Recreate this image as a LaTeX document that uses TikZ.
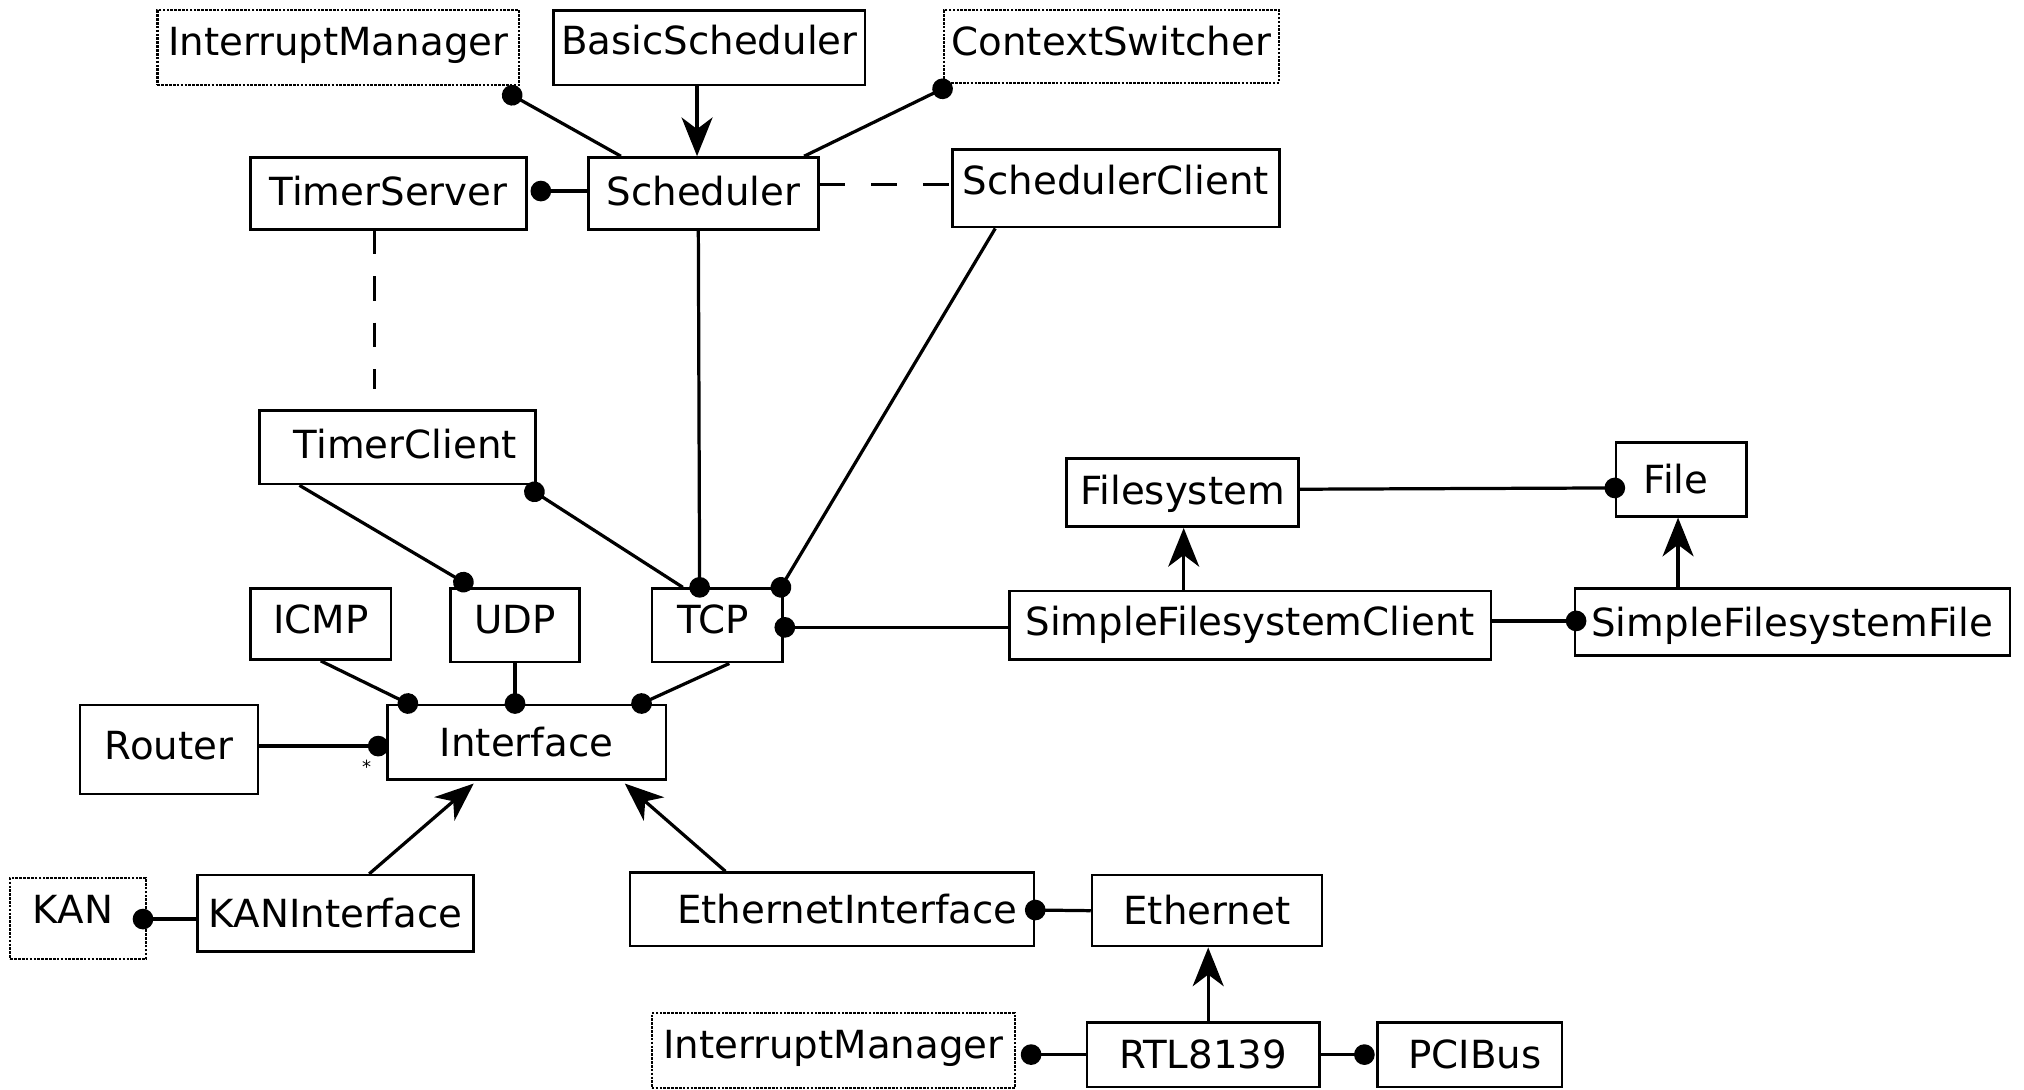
\documentclass[tikz,border=0pt]{standalone}
\usepackage{fontspec}
\setmainfont{DejaVu Sans}
\usetikzlibrary{arrows.meta,calc}
\begin{document}
\begin{tikzpicture}[x=1pt,y=-1pt,
  box/.style={draw, line width=2pt, rectangle, inner sep=0pt, text height=22pt, text depth=0pt, font=\fontsize{30}{36}\selectfont},
  dbox/.style={box, densely dotted, line width=1.6pt},
  lift/.style={text depth=#1},
  conn/.style={line width=2.5pt},
  dotS/.style={conn, {Circle[length=16pt,width=16pt]}-, shorten <=-8pt},
  dotE/.style={conn, -{Circle[length=16pt,width=16pt]}, shorten >=-8pt},
  inh/.style={conn, -{Stealth[length=30pt,width=24pt,inset=9pt]}},
  dsh/.style={line width=2.5pt, dash pattern=on 20pt off 20pt}
]
\useasboundingbox (0,0) rectangle (1568,844);
\fill[white] (0,0) rectangle (1568,844);

% boxes
\node[dbox, lift=10pt, minimum width=280pt, minimum height=58pt] (im1) at (262,37) {InterruptManager};
\node[box, lift=12pt, minimum width=241pt, minimum height=58pt] (bs) at (549.5,37) {BasicScheduler};
\node[dbox, lift=8pt, minimum width=260pt, minimum height=56pt] (cs) at (861,36) {ContextSwitcher};
\node[box, lift=4pt, minimum width=214pt, minimum height=56pt] (ts) at (301,150) {TimerServer};
\node[box, lift=4pt, minimum width=178pt, minimum height=56pt] (sch) at (545,150) {Scheduler};
\node[box, lift=12pt, minimum width=253pt, minimum height=60pt] (sc) at (864.5,146) {SchedulerClient};
\node[box, lift=4pt, minimum width=214pt, minimum height=57pt] (tc) at (308,346.5) {\hspace*{12pt}TimerClient};
\node[box, lift=4pt, minimum width=180pt, minimum height=53pt] (fs) at (916,381.5) {Filesystem};
\node[box, minimum width=101pt, minimum height=57pt] (file) at (1302.5,371.5) {File\hspace*{8pt}};
\node[box, lift=8pt, minimum width=109pt, minimum height=55pt] (icmp) at (248.5,483.5) {ICMP};
\node[box, lift=10pt, minimum width=100pt, minimum height=57pt] (udp) at (399,484.5) {UDP};
\node[box, lift=10pt, minimum width=101pt, minimum height=57pt] (tcp) at (555.5,484.5) {TCP\hspace*{6pt}};
\node[box, lift=6pt, minimum width=373pt, minimum height=53pt] (sfc) at (968.5,484.5) {SimpleFilesystemClient};
\node[box, minimum width=337pt, minimum height=52pt] (sff) at (1388.5,482) {SimpleFilesystemFile};
\node[box, lift=6pt, minimum width=138pt, minimum height=69pt] (router) at (131,580.5) {Router};
\node[box, minimum width=216pt, minimum height=58pt] (iface) at (408,575) {Interface};
\node[dbox, lift=14pt, minimum width=105pt, minimum height=63pt] (kan) at (60.5,711.5) {KAN\hspace*{8pt}};
\node[box, minimum width=214pt, minimum height=59pt] (kani) at (260,707.5) {KANInterface};
\node[box, minimum width=313pt, minimum height=57pt] (ethi) at (644.5,704.5) {\hspace*{24pt}EthernetInterface};
\node[box, minimum width=178pt, minimum height=55pt] (eth) at (935,705.5) {Ethernet};
\node[dbox, lift=10pt, minimum width=281pt, minimum height=58pt] (im2) at (645.5,814) {InterruptManager};
\node[box, minimum width=180pt, minimum height=50pt] (rtl) at (932,817) {RTL8139};
\node[box, minimum width=143pt, minimum height=50pt] (pci) at (1138.5,817) {\hspace*{8pt}PCIBus};

% connectors
\draw[dotS] ($(im1.south east)+(-6,7)$) -- ($(sch.north west)+(26,0)$);
\draw[inh] ($(bs.south)+(-9.5,0)$) -- ($(sch.north)+(-5,0)$);
\draw[dotS] ($(cs.south west)+(0,4)$) -- ($(sch.north east)+(-12,0)$);
\draw[dotS] ($(ts.east)+(10,-2)$) -- ($(sch.west)+(0,-2)$);
\draw[dsh] ($(sch.east)+(0,-7)$) -- ($(sc.west)+(0,-3)$);
\draw[line width=2.5pt, dash pattern=on 19pt off 17pt] ($(ts.south)+(-11,-1)$) -- ($(tc.north)+(-18,-16)$);
\draw[dotE] ($(sch.south)+(-4,0)$) -- ($(tcp.north west)+(38,0)$);
\draw[dotE] ($(sc.south west)+(34,0)$) -- ($(tcp.north east)+(-2,0)$);
\draw[dotE] ($(tc.south west)+(32,0)$) -- ($(udp.north west)+(11,-4)$);
\draw[dotS] ($(tc.south east)+(-2,5)$) -- ($(tcp.north west)+(25,0)$);
\draw[dotE] (icmp.south) -- ($(iface.north west)+(17,0)$);
\draw[dotE] (udp.south) -- (udp.south |- iface.north);
\draw[dotE] ($(tcp.south)+(9.5,0)$) -- ($(iface.north east)+(-20,0)$);
\draw[dotE] ($(router.east)+(0,-2.5)$) -- ($(iface.west)+(-6,3)$);
\node[font=\fontsize{14}{14}\selectfont, inner sep=0pt] (star) at (284,594) {*};
\draw[dotS] ($(tcp.east)+(1,1.5)$) -- ($(sfc.west)+(0,1.5)$);
\draw[inh] ($(kani.north west)+(134,0)$) -- ($(iface.south west)+(68,2)$);
\draw[inh] ($(ethi.north west)+(75,0)$) -- ($(iface.south east)+(-33,2)$);
\draw[dotS] ($(kan.east)+(-3,0.5)$) -- ($(kani.west)+(0,4.5)$);
\draw[dotS] ($(ethi.east)+(0,0.5)$) -- (eth.west);
\draw[inh] ($(rtl.north)+(4,0)$) -- ($(eth.south)+(1,0)$);
\draw[dotS] ($(im2.east)+(12,3)$) -- (rtl.west);
\draw[dotE] (rtl.east) -- ($(pci.west)+(-9,0)$);
\draw[dotE] ($(fs.east)+(0,-2.5)$) -- ($(file.west)+(0,6.5)$);
\draw[inh] ($(sfc.north)+(-51.5,0)$) -- ($(fs.south)+(1,0)$);
\draw[inh] ($(sff.north)+(-88.5,0)$) -- ($(file.south)+(-2.5,0)$);
\draw[dotE] ($(sfc.east)+(0,-3.5)$) -- ($(sff.west)+(2,-1)$);
\end{tikzpicture}
\end{document}
